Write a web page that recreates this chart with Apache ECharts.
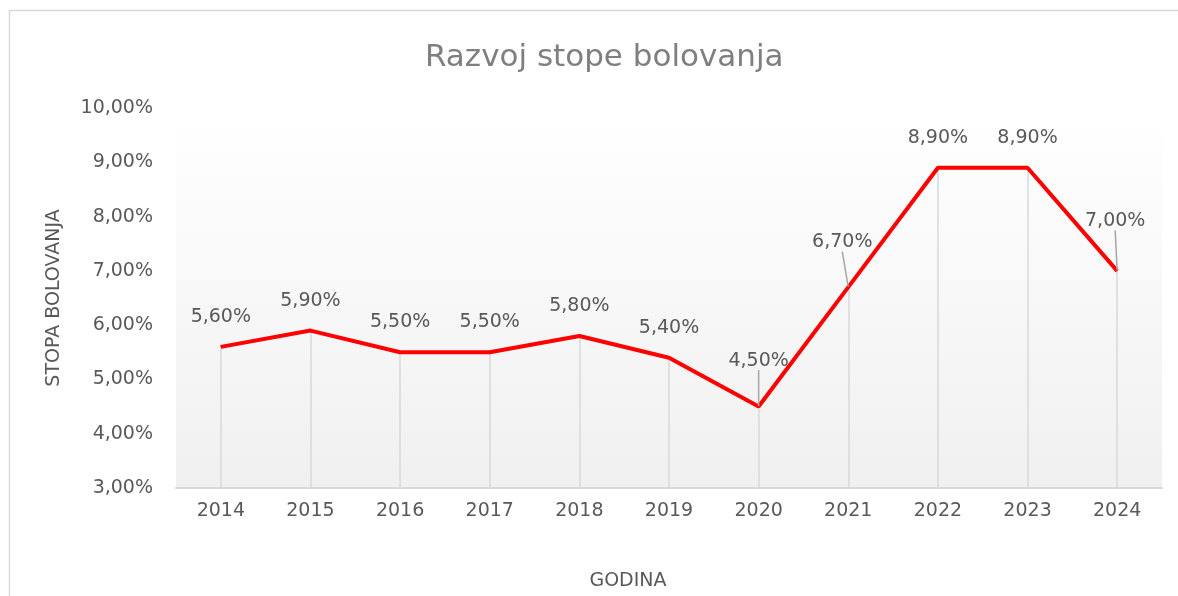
<!DOCTYPE html>
<html>
<head>
<meta charset="utf-8">
<script src="https://cdn.jsdelivr.net/npm/echarts@6/dist/echarts.min.js"></script>
<style>html,body{margin:0;padding:0;background:#fff}#c{width:1178px;height:596px}</style>
</head>
<body>
<div id="c"></div>
<script>
const titleText = 'Razvoj stope bolovanja';
const years = ['2014','2015','2016','2017','2018','2019','2020','2021','2022','2023','2024'];
const rates = [5.6, 5.9, 5.5, 5.5, 5.8, 5.4, 4.5, 6.7, 8.9, 8.9, 7.0];
const yName = 'STOPA BOLOVANJA';
const xName = 'GODINA';
const yMin = 3, yMax = 10, yStep = 1;

const fmt = v => v.toFixed(2).replace('.', ',') + '%';
const FONT = 'DejaVu Sans';
const TXT = '#595959';

// label offsets (only for labels with leader lines)
const moved = {6: [0, -16], 7: [-6, -15], 10: [-2, -20]};

const chart = echarts.init(document.getElementById('c'));
chart.setOption({
  backgroundColor: '#fff',
  animation: false,
  title: {
    text: titleText, left: 420, top: 37,
    textStyle: {fontFamily: FONT, fontSize: 31, fontWeight: 'normal', color: '#7f7f7f'}
  },
  grid: {
    left: 176, right: 16, top: 108, bottom: 108,
    show: true, borderWidth: 0,
    backgroundColor: new echarts.graphic.LinearGradient(0, 0, 0, 1, [
      {offset: 0, color: '#ffffff'}, {offset: 1, color: '#f0f0f0'}
    ])
  },
  xAxis: {
    type: 'category', data: years, boundaryGap: true,
    axisLine: {lineStyle: {color: '#d9d9d9', width: 2}},
    axisTick: {show: false},
    axisLabel: {fontFamily: FONT, fontSize: 19, color: TXT, margin: 14},
    splitLine: {show: false}
  },
  yAxis: {
    type: 'value', min: yMin, max: yMax, interval: yStep,
    axisLine: {show: false}, axisTick: {show: false},
    splitLine: {show: false},
    axisLabel: {fontFamily: FONT, fontSize: 19, color: TXT, margin: 23, formatter: fmt}
  },
  graphic: [
    {type: 'rect', silent: true, z: -10,
     shape: {x: 9.5, y: 10.5, width: 1200, height: 600},
     style: {fill: 'none', stroke: '#d9d9d9', lineWidth: 1.5}},
    {type: 'text', x: 54, y: 298, rotation: Math.PI / 2,
     style: {text: yName, font: '19px "DejaVu Sans"', fill: TXT, align: 'center', verticalAlign: 'middle'}},
    {type: 'text', x: 628, y: 581,
     style: {text: xName, font: '19px "DejaVu Sans"', fill: TXT, align: 'center', verticalAlign: 'middle'}}
  ],
  series: [{
    type: 'line',
    data: rates.map((v, i) => moved[i] ? {value: v, labelLine: {show: true}} : v),
    symbol: 'circle', symbolSize: 1, showSymbol: true,
    itemStyle: {color: '#ff0000'},
    lineStyle: {color: '#ff0000', width: 4},
    z: 3,
    label: {
      show: true, position: 'top', distance: 20,
      fontFamily: FONT, fontSize: 19, color: TXT,
      formatter: p => fmt(p.value)
    },
    labelLine: {show: false, lineStyle: {color: '#a6a6a6', width: 1.5}},
    labelLayout: p => moved[p.dataIndex] ? {dx: moved[p.dataIndex][0], dy: moved[p.dataIndex][1]} : {},
    markLine: {
      silent: true, symbol: 'none', z: 1,
      label: {show: false},
      lineStyle: {color: '#d9d9d9', width: 1.5, type: 'solid'},
      data: years.map((y, i) => [{coord: [i, rates[i]]}, {coord: [i, yMin]}])
    }
  }]
});
</script>
</body>
</html>
